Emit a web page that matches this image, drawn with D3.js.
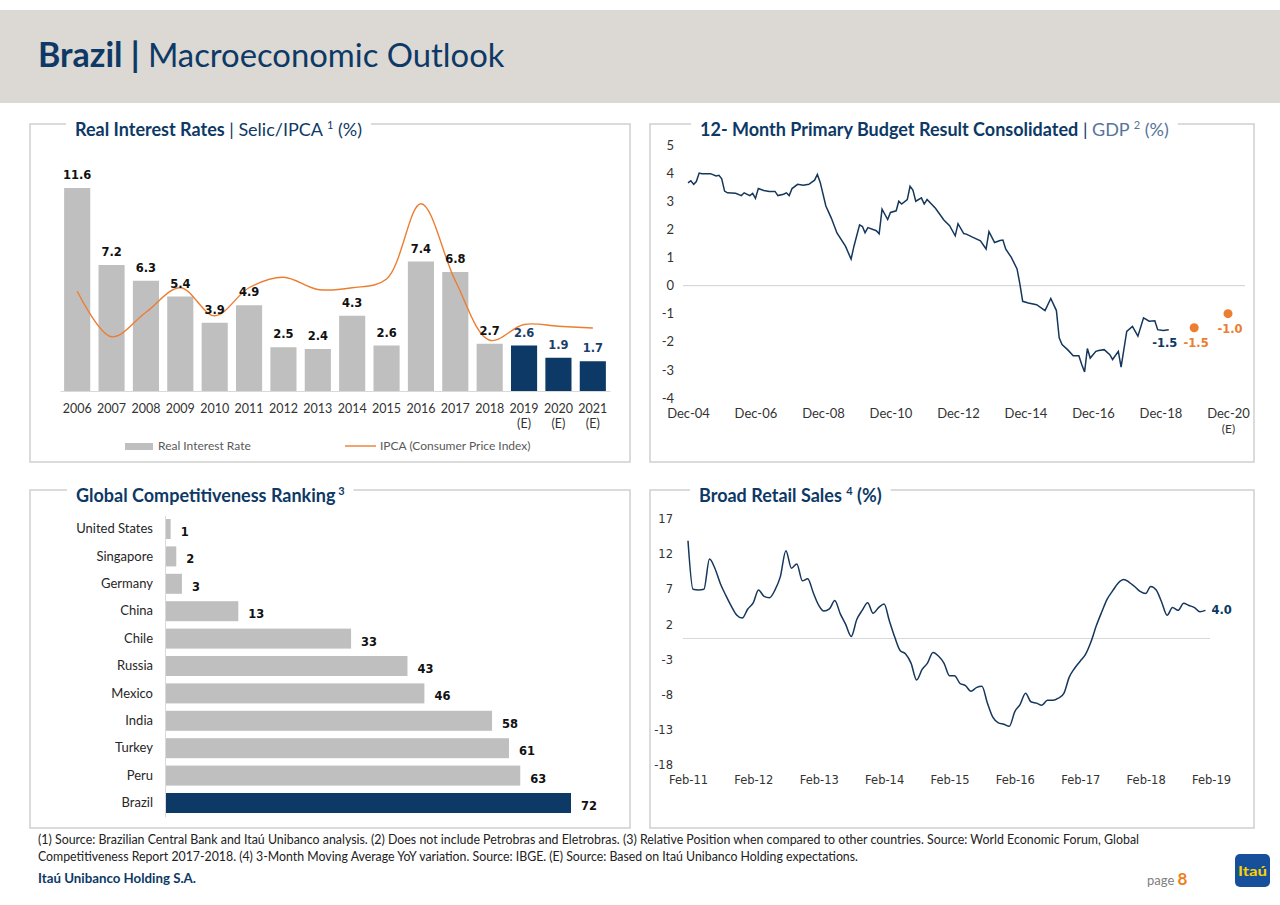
<!DOCTYPE html>
<html>
<head>
<meta charset="utf-8">
<script src="https://cdn.jsdelivr.net/npm/d3@7"></script>
<style>
body { margin: 0; background: #ffffff; }
svg { display: block; }
</style>
</head>
<body>
<svg id="page" width="1280" height="905"></svg>
<script>
// ---- data ----
var years = ["2006","2007","2008","2009","2010","2011","2012","2013","2014","2015","2016","2017","2018","2019","2020","2021"];
var yearNotes = ["","","","","","","","","","","","","","(E)","(E)","(E)"];
var realRate = [11.6, 7.2, 6.3, 5.4, 3.9, 4.9, 2.5, 2.4, 4.3, 2.6, 7.4, 6.8, 2.7, 2.6, 1.9, 1.7];
var ipca = [5.7, 3.1, 4.5, 5.9, 4.3, 5.9, 6.5, 5.8, 5.9, 6.4, 10.7, 6.3, 2.9, 3.8, 3.7, 3.6];

var budgetSeries = [
  ["2004-12",3.65],["2005-01",3.73],["2005-02",3.6],["2005-03",3.7],["2005-04",4.0],["2005-05",3.98],
  ["2005-08",3.98],["2005-10",3.9],["2005-11",3.92],["2005-12",3.8],["2006-01",3.36],["2006-02",3.3],
  ["2006-05",3.28],["2006-07",3.2],["2006-08",3.3],["2006-10",3.2],["2006-11",3.28],["2006-12",3.1],
  ["2007-01",3.45],["2007-03",3.38],["2007-05",3.35],["2007-07",3.35],["2007-08",3.2],["2007-10",3.25],
  ["2007-11",3.3],["2007-12",3.2],["2008-01",3.45],["2008-03",3.6],["2008-05",3.57],["2008-07",3.6],
  ["2008-09",3.75],["2008-10",3.95],["2008-11",3.67],["2009-01",2.83],["2009-03",2.4],["2009-05",1.87],
  ["2009-08",1.4],["2009-10",0.94],["2009-11",1.4],["2010-01",2.16],["2010-02",2.1],["2010-03",1.88],
  ["2010-04",2.06],["2010-07",1.95],["2010-08",1.84],["2010-09",2.72],["2010-11",2.35],["2010-12",2.6],
  ["2011-02",2.66],["2011-03",3.0],["2011-04",2.9],["2011-06",3.06],["2011-07",3.53],["2011-08",3.4],
  ["2011-09",3.0],["2011-11",3.12],["2011-12",2.9],["2012-01",3.06],["2012-04",2.75],["2012-07",2.33],
  ["2012-09",2.13],["2012-11",1.77],["2012-12",2.2],["2013-02",1.85],["2013-03",1.83],["2013-05",1.73],
  ["2013-08",1.59],["2013-10",1.3],["2013-11",1.92],["2014-01",1.53],["2014-03",1.6],["2014-04",1.62],
  ["2014-05",1.3],["2014-07",1.0],["2014-09",0.59],["2014-10",0.07],["2014-11",-0.56],["2015-01",-0.62],
  ["2015-04",-0.68],["2015-07",-0.89],["2015-09",-0.46],["2015-11",-0.89],["2015-12",-1.86],["2016-01",-2.1],
  ["2016-03",-2.28],["2016-05",-2.5],["2016-07",-2.5],["2016-08",-2.81],["2016-09",-3.07],["2016-10",-2.24],
  ["2016-11",-2.58],["2017-01",-2.34],["2017-02",-2.31],["2017-04",-2.28],["2017-06",-2.46],["2017-07",-2.63],
  ["2017-09",-2.34],["2017-10",-2.9],["2017-12",-1.63],["2018-02",-1.45],["2018-04",-1.8],["2018-06",-1.15],
  ["2018-08",-1.27],["2018-10",-1.25],["2018-11",-1.57],["2019-01",-1.6],["2019-03",-1.57]
];
var budgetForecastDates = ["2019-12","2020-12"];
var budgetForecast = [-1.5, -1.0];
var budgetTicks = ["2004-12","2006-12","2008-12","2010-12","2012-12","2014-12","2016-12","2018-12","2020-12"];

var countries = ["United States","Singapore","Germany","China","Chile","Russia","Mexico","India","Turkey","Peru","Brazil"];
var ranks = [1, 2, 3, 13, 33, 43, 46, 58, 61, 63, 72];

var retailStart = "2011-02";
var retailSales = [13.9, 7.0, 6.9, 7.0, 11.3, 10.0, 7.8, 6.1, 4.6, 3.3, 2.9, 4.2,
  5.1, 6.9, 6.0, 5.8, 6.9, 8.8, 12.5, 10.0, 10.6, 8.2, 8.5, 6.5,
  4.7, 3.9, 4.2, 5.4, 3.5, 2.0, 0.3, 2.7, 4.0, 5.1, 3.6, 4.4,
  4.9, 2.6, 0.2, -1.7, -2.2, -3.5, -5.9, -4.4, -3.5, -2.0, -2.5, -3.5,
  -5.3, -5.3, -6.4, -6.7, -7.5, -7.0, -6.8, -9.2, -11.2, -12.0, -12.2, -12.5,
  -10.4, -9.4, -7.8, -9.0, -9.2, -9.5, -8.8, -8.8, -8.5, -7.8, -5.5, -4.2,
  -3.2, -2.3, -0.5, 1.8, 3.8, 5.6, 6.8, 7.9, 8.4, 8.0, 7.4, 6.7,
  6.4, 7.4, 6.9, 5.2, 3.3, 4.4, 4.0, 5.0, 4.7, 4.4, 3.8, 4.0];
var retailTicks = ["2011-02","2012-02","2013-02","2014-02","2015-02","2016-02","2017-02","2018-02","2019-02"];

// ---- styles ----
var navy = "#0d3966";
var barGray = "#bfbfbf";
var orange = "#ed7d31";
var gridGray = "#d9d9d9";
var parseM = d3.timeParse("%Y-%m");
var fmtM = d3.timeFormat("%b-%y");
var plainNum = function(d) { return String(d); };

var svg = d3.select("#page");

// header band
svg.append("rect").attr("x", 0).attr("y", 10).attr("width", 1280).attr("height", 93).attr("fill", "#dcd8d3");
var head = svg.append("text")
    .attr("x", 38).attr("y", 67)
    .attr("font-family", "Lato").attr("font-size", "34px").attr("fill", navy);
head.append("tspan").attr("font-weight", "bold").text("Brazil");
head.append("tspan").attr("font-weight", "bold").text(" | ");
head.append("tspan").attr("font-size", "32.8px").text("Macroeconomic Outlook");

function drawPanel(x0, y0, x1, y1, tx, parts)
{
    svg.append("rect")
        .attr("x", x0).attr("y", y0)
        .attr("width", x1 - x0).attr("height", y1 - y0)
        .attr("fill", "none").attr("stroke", "#cfcfcf").attr("stroke-width", 1.5);
    var bg = svg.append("rect").attr("fill", "#ffffff");
    var t = svg.append("text")
        .attr("x", tx).attr("y", y0 + 12)
        .attr("font-family", "Lato").attr("font-size", "18px").attr("fill", navy);
    var raised = false;
    parts.forEach(function(p)
    {
        var s = t.append("tspan").text(p.text)
            .attr("font-weight", p.bold ? "bold" : "normal");
        if(p.color) s.attr("fill", p.color);
        if(p.sup) { s.attr("font-size", "11px").attr("dy", -7); raised = true; }
        else if(raised) { s.attr("dy", 7); raised = false; }
    });
    var bb = t.node().getBBox();
    bg.attr("x", bb.x - 9).attr("y", y0 - 3).attr("width", bb.width + 18).attr("height", 6);
}

drawPanel(30, 124, 630, 462, 75, [
    {text: "Real Interest Rates", bold: true},
    {text: " | Selic/IPCA "},
    {text: "1", sup: true},
    {text: " (%)"}
]);
drawPanel(650, 124, 1254, 462, 700, [
    {text: "12- Month Primary Budget Result Consolidated", bold: true},
    {text: " | "},
    {text: "GDP ", color: "#56749a"},
    {text: "2", sup: true, color: "#56749a"},
    {text: " (%)", color: "#56749a"}
]);
drawPanel(30, 490, 630, 828, 76, [
    {text: "Global Competitiveness Ranking", bold: true},
    {text: " 3", sup: true, bold: true}
]);
drawPanel(650, 490, 1254, 828, 699, [
    {text: "Broad Retail Sales ", bold: true},
    {text: "4", sup: true, bold: true},
    {text: " (%)", bold: true}
]);

// ---- real interest rates ----
var xYear = d3.scaleBand().domain(years).range([60, 610]).paddingInner(0.24).paddingOuter(0.12);
var yRate = d3.scaleLinear().domain([0, 12]).range([391, 181]);
var bw = xYear.bandwidth();

svg.append("g").selectAll("rect")
    .data(realRate).enter().append("rect")
    .attr("x", function(d, i) { return xYear(years[i]); })
    .attr("y", function(d) { return yRate(d); })
    .attr("width", bw)
    .attr("height", function(d) { return yRate(0) - yRate(d); })
    .attr("fill", function(d, i) { return yearNotes[i] ? navy : barGray; });

var yearAxis = svg.append("g")
    .attr("transform", "translate(0,391)")
    .call(d3.axisBottom(xYear).tickSize(0).tickSizeOuter(0).tickPadding(13));
yearAxis.select(".domain").attr("stroke", gridGray);
yearAxis.selectAll("text")
    .attr("font-family", "Lato").attr("font-size", "12.5px").attr("fill", "#333333")
    .each(function(d, i)
    {
        if(yearNotes[i])
            d3.select(this).append("tspan").attr("x", 0).attr("dy", "1.2em").text(yearNotes[i]);
    });

var ipcaLine = d3.line()
    .x(function(d, i) { return xYear(years[i]) + bw / 2; })
    .y(function(d) { return yRate(d); })
    .curve(d3.curveCatmullRom.alpha(0.5));
svg.append("path").datum(ipca)
    .attr("d", ipcaLine)
    .attr("fill", "none").attr("stroke", orange).attr("stroke-width", 1.4);

svg.append("g").selectAll("text")
    .data(realRate).enter().append("text")
    .attr("x", function(d, i) { return xYear(years[i]) + bw / 2; })
    .attr("y", function(d) { return yRate(d) - 9; })
    .attr("text-anchor", "middle")
    .attr("font-family", "DejaVu Sans").attr("font-weight", "bold").attr("font-size", "11.5px")
    .attr("fill", function(d, i) { return yearNotes[i] ? "#1b3f6b" : "#111111"; })
    .text(function(d) { return d.toFixed(1); });

// legend
svg.append("rect").attr("x", 125).attr("y", 443).attr("width", 28).attr("height", 7).attr("fill", barGray);
svg.append("text").attr("x", 158).attr("y", 450)
    .attr("font-family", "Lato").attr("font-size", "12px").attr("fill", "#595959")
    .text("Real Interest Rate");
svg.append("line").attr("x1", 345).attr("x2", 376).attr("y1", 446).attr("y2", 446)
    .attr("stroke", orange).attr("stroke-width", 1.4);
svg.append("text").attr("x", 380).attr("y", 450)
    .attr("font-family", "Lato").attr("font-size", "12px").attr("fill", "#595959")
    .text("IPCA (Consumer Price Index)");

// ---- primary budget result ----
var xBud = d3.scaleTime().domain([parseM("2004-12"), parseM("2020-12")]).range([688, 1228]);
var yBud = d3.scaleLinear().domain([-4, 5]).range([398, 145]);

svg.append("line")
    .attr("x1", 683).attr("x2", 1245).attr("y1", yBud(0)).attr("y2", yBud(0))
    .attr("stroke", gridGray).attr("stroke-width", 1.2);

var budY = svg.append("g").attr("transform", "translate(674,0)")
    .call(d3.axisLeft(yBud).tickValues(d3.range(-4, 6)).tickFormat(plainNum).tickSize(0).tickPadding(0));
budY.select(".domain").remove();
budY.selectAll("text").attr("font-family", "Lato").attr("font-size", "13px").attr("fill", "#333333");

var budX = svg.append("g").attr("transform", "translate(0,400)")
    .call(d3.axisBottom(xBud).tickValues(budgetTicks.map(parseM)).tickFormat(fmtM).tickSize(0).tickPadding(9));
budX.select(".domain").remove();
budX.selectAll("text")
    .attr("font-family", "Lato").attr("font-size", "13px").attr("fill", "#333333")
    .each(function(d, i)
    {
        if(i == budgetTicks.length - 1)
            d3.select(this).append("tspan").attr("x", 0).attr("dy", "1.25em").attr("font-size", "12px").text("(E)");
    });

var budLine = d3.line()
    .x(function(d) { return xBud(parseM(d[0])); })
    .y(function(d) { return yBud(d[1]); });
svg.append("path").datum(budgetSeries)
    .attr("d", budLine)
    .attr("fill", "none").attr("stroke", "#15375c").attr("stroke-width", 1.5);

var lastBud = budgetSeries[budgetSeries.length - 1];
svg.append("text")
    .attr("x", xBud(parseM(lastBud[0])) - 4)
    .attr("y", yBud(lastBud[1]) + 17)
    .attr("text-anchor", "middle")
    .attr("font-family", "DejaVu Sans").attr("font-weight", "bold").attr("font-size", "11.5px")
    .attr("fill", navy)
    .text((-1.5).toFixed(1));

svg.append("g").selectAll("circle")
    .data(budgetForecast).enter().append("circle")
    .attr("cx", function(d, i) { return xBud(parseM(budgetForecastDates[i])); })
    .attr("cy", function(d) { return yBud(d); })
    .attr("r", 4.5)
    .attr("fill", orange);
svg.append("g").selectAll("text")
    .data(budgetForecast).enter().append("text")
    .attr("x", function(d, i) { return xBud(parseM(budgetForecastDates[i])) + 2; })
    .attr("y", function(d) { return yBud(d) + 19; })
    .attr("text-anchor", "middle")
    .attr("font-family", "DejaVu Sans").attr("font-weight", "bold").attr("font-size", "11.5px")
    .attr("fill", orange)
    .text(function(d) { return d.toFixed(1); });

// ---- competitiveness ranking ----
var yC = d3.scaleBand().domain(countries).range([515.3, 816.7]).paddingInner(0.27).paddingOuter(0.135);
var xC = d3.scaleLinear().domain([0, 72]).range([165, 571]);

svg.append("g").selectAll("rect")
    .data(ranks).enter().append("rect")
    .attr("x", xC(0))
    .attr("y", function(d, i) { return yC(countries[i]); })
    .attr("width", function(d) { return xC(d) - xC(0); })
    .attr("height", yC.bandwidth())
    .attr("fill", function(d, i) { return countries[i] == "Brazil" ? navy : barGray; });

var cAxis = svg.append("g").attr("transform", "translate(165,0)")
    .call(d3.axisLeft(yC).tickSize(0).tickSizeOuter(0).tickPadding(12));
cAxis.select(".domain").attr("stroke", gridGray);
cAxis.selectAll("text").attr("font-family", "Lato").attr("font-size", "13px").attr("fill", "#262626");

svg.append("g").selectAll("text")
    .data(ranks).enter().append("text")
    .attr("x", function(d) { return xC(d) + 10; })
    .attr("y", function(d, i) { return yC(countries[i]) + yC.bandwidth() / 2 + 7; })
    .attr("font-family", "DejaVu Sans").attr("font-weight", "bold").attr("font-size", "11.5px")
    .attr("fill", "#111111")
    .text(function(d) { return d; });

// ---- broad retail sales ----
var retailDates = retailSales.map(function(d, i) { return d3.timeMonth.offset(parseM(retailStart), i); });
var xRet = d3.scaleTime().domain([parseM("2011-02"), parseM("2019-02")]).range([688, 1211]);
var yRet = d3.scaleLinear().domain([-18, 17]).range([765, 519]);

svg.append("line")
    .attr("x1", 683).attr("x2", 1210).attr("y1", yRet(0)).attr("y2", yRet(0))
    .attr("stroke", gridGray).attr("stroke-width", 1.2);

var retY = svg.append("g").attr("transform", "translate(673,0)")
    .call(d3.axisLeft(yRet).tickValues([-18, -13, -8, -3, 2, 7, 12, 17]).tickFormat(plainNum).tickSize(0).tickPadding(0));
retY.select(".domain").remove();
retY.selectAll("text").attr("font-family", "DejaVu Sans").attr("font-size", "11.5px").attr("fill", "#333333");

var retX = svg.append("g").attr("transform", "translate(0,768)")
    .call(d3.axisBottom(xRet).tickValues(retailTicks.map(parseM)).tickFormat(fmtM).tickSize(0).tickPadding(8));
retX.select(".domain").remove();
retX.selectAll("text").attr("font-family", "DejaVu Sans").attr("font-size", "11.5px").attr("fill", "#333333");

var retLine = d3.line()
    .x(function(d, i) { return xRet(retailDates[i]); })
    .y(function(d) { return yRet(d); })
    .curve(d3.curveMonotoneX);
svg.append("path").datum(retailSales)
    .attr("d", retLine)
    .attr("fill", "none").attr("stroke", "#15375c").attr("stroke-width", 1.5);

var lastRet = retailSales[retailSales.length - 1];
svg.append("text")
    .attr("x", xRet(retailDates[retailDates.length - 1]) + 6)
    .attr("y", yRet(lastRet) + 4)
    .attr("font-family", "DejaVu Sans").attr("font-weight", "bold").attr("font-size", "11.5px")
    .attr("fill", navy)
    .text(lastRet.toFixed(1));

// ---- footer ----
svg.append("text").attr("x", 38).attr("y", 844)
    .attr("font-family", "Lato").attr("font-size", "12.5px").attr("fill", "#222222")
    .attr("textLength", 1101).attr("lengthAdjust", "spacingAndGlyphs")
    .text("(1) Source: Brazilian Central Bank and Itaú Unibanco analysis. (2) Does not include Petrobras and Eletrobras. (3) Relative Position when compared to other countries. Source: World Economic Forum, Global");
svg.append("text").attr("x", 38).attr("y", 861)
    .attr("font-family", "Lato").attr("font-size", "12.5px").attr("fill", "#222222")
    .attr("textLength", 820).attr("lengthAdjust", "spacingAndGlyphs")
    .text("Competitiveness Report 2017-2018. (4) 3-Month Moving Average YoY variation. Source: IBGE. (E) Source: Based on Itaú Unibanco Holding expectations.");
svg.append("text").attr("x", 38).attr("y", 883)
    .attr("font-family", "Lato").attr("font-weight", "bold").attr("font-size", "13px").attr("fill", navy)
    .attr("textLength", 158).attr("lengthAdjust", "spacingAndGlyphs")
    .text("Itaú Unibanco Holding S.A.");

var pg = svg.append("text").attr("x", 1147).attr("y", 885)
    .attr("font-family", "Lato").attr("font-size", "13px").attr("fill", "#808080");
pg.append("tspan").text("page ");
pg.append("tspan").attr("font-size", "17px").attr("font-weight", "bold").attr("fill", "#f07f1a").text("8");

svg.append("rect").attr("x", 1235).attr("y", 854).attr("width", 35).attr("height", 33).attr("rx", 5)
    .attr("fill", "#17509a");
svg.append("text").attr("x", 1252.5).attr("y", 876).attr("text-anchor", "middle")
    .attr("font-family", "Lato").attr("font-weight", "bold").attr("font-size", "14px").attr("fill", "#ffd200")
    .attr("textLength", 29).attr("lengthAdjust", "spacingAndGlyphs")
    .text("Itaú");
</script>
</body>
</html>
